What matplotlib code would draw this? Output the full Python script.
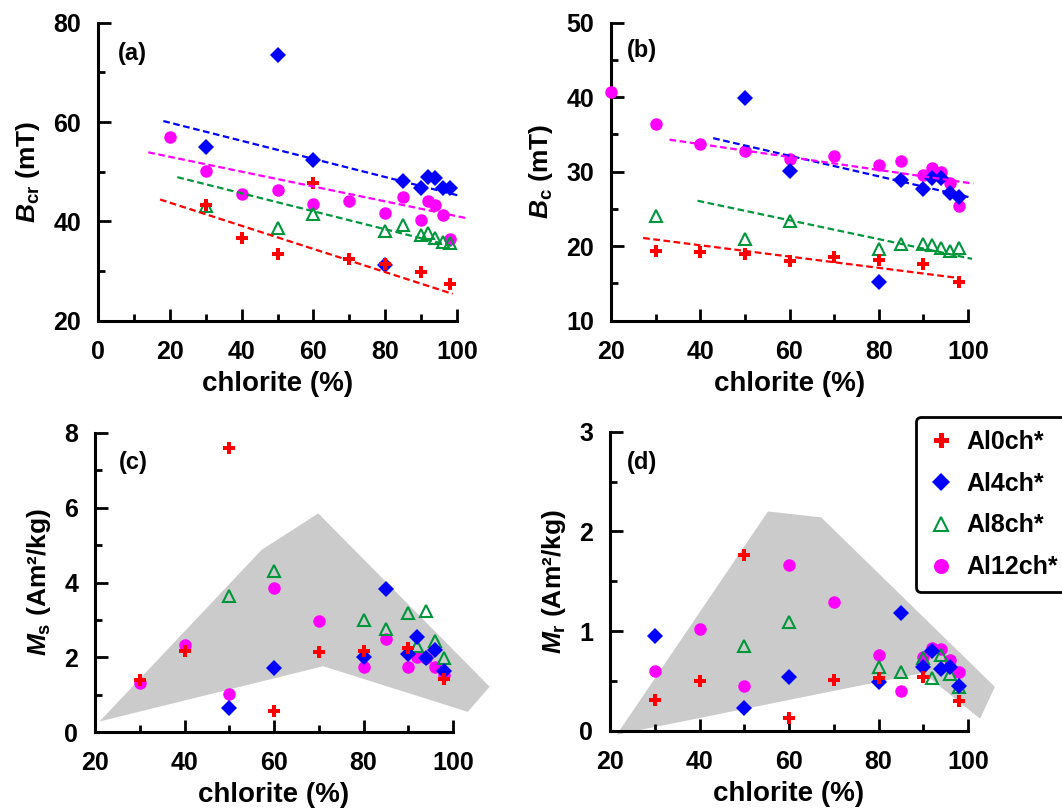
import numpy as np
import matplotlib.pyplot as plt
from matplotlib.ticker import MultipleLocator

plt.rcParams['font.family'] = ['Liberation Sans', 'DejaVu Sans']
plt.rcParams['font.weight'] = 'bold'
plt.rcParams['mathtext.fontset'] = 'custom'
plt.rcParams['mathtext.rm'] = 'Liberation Sans:bold'
plt.rcParams['mathtext.it'] = 'Liberation Sans:italic:bold'
plt.rcParams['mathtext.bf'] = 'Liberation Sans:bold'

# ---------- data (chlorite %, value) ----------
names = ['Al0ch*', 'Al4ch*', 'Al8ch*', 'Al12ch*']

# (a) Bcr
a_x0 = [30, 40, 50, 60, 70, 80, 90, 98]
a_y0 = [43.3, 36.7, 33.4, 47.7, 32.4, 31.5, 29.9, 27.4]
a_x4 = [30, 50, 60, 80, 85, 90, 92, 94, 96, 98]
a_y4 = [55.0, 73.5, 52.4, 31.2, 48.2, 46.8, 48.9, 48.7, 46.8, 46.7]
a_x8 = [30, 50, 60, 80, 85, 90, 92, 94, 96, 98]
a_y8 = [43.0, 38.7, 41.4, 38.1, 39.3, 37.3, 37.6, 36.6, 35.9, 35.6]
a_x12 = [20, 30, 40, 50, 60, 70, 80, 85, 90, 92, 94, 96, 98]
a_y12 = [57.0, 50.1, 45.6, 46.3, 43.5, 44.2, 41.6, 45.0, 40.3, 44.0, 43.2, 41.3, 36.4]
# trend lines (end points)
a_fx = [[17.3, 98.8], [18.2, 101.0], [22.1, 99.4], [14.0, 102.9]]
a_fy = [[44.4, 25.4], [60.2, 45.1], [48.9, 34.9], [53.9, 40.6]]

# (b) Bc
b_x0 = [30, 40, 50, 60, 70, 80, 90, 98]
b_y0 = [19.4, 19.2, 19.0, 18.0, 18.5, 18.2, 17.6, 15.2]
b_x4 = [50, 60, 80, 85, 90, 92, 94, 96, 98]
b_y4 = [39.9, 30.1, 15.2, 28.9, 27.7, 29.2, 29.2, 27.2, 26.6]
b_x8 = [30, 50, 60, 80, 85, 90, 92, 94, 96, 98]
b_y8 = [24.1, 21.0, 23.4, 19.6, 20.3, 20.3, 20.1, 19.7, 19.4, 19.7]
b_x12 = [20, 30, 40, 50, 60, 70, 80, 85, 90, 92, 94, 96, 98]
b_y12 = [40.7, 36.4, 33.7, 32.8, 31.7, 32.1, 30.9, 31.4, 29.5, 30.5, 29.9, 28.5, 25.4]
b_fx = [[27.2, 98.3], [42.9, 100.1], [39.4, 100.9], [33.1, 101.2]]
b_fy = [[21.1, 15.7], [34.5, 26.6], [26.1, 18.3], [34.3, 28.4]]

# (c) Ms
c_x0 = [30, 40, 50, 60, 70, 80, 90, 98]
c_y0 = [1.39, 2.17, 7.59, 0.56, 2.13, 2.17, 2.25, 1.43]
c_x4 = [50, 60, 80, 85, 90, 92, 94, 96, 98]
c_y4 = [0.63, 1.72, 2.01, 3.82, 2.10, 2.53, 1.97, 2.19, 1.64]
c_x8 = [50, 60, 80, 85, 90, 92, 94, 96, 98]
c_y8 = [3.64, 4.31, 3.01, 2.75, 3.19, 2.30, 3.24, 2.44, 1.99]
c_x12 = [30, 40, 50, 60, 70, 80, 85, 90, 92, 94, 96, 98]
c_y12 = [1.32, 2.33, 1.02, 3.86, 2.98, 1.75, 2.50, 1.75, 2.01, 1.99, 1.75, 1.53]
c_env_x = [21.0, 57.2, 69.9, 108.2, 103.3, 71.0]
c_env_y = [0.28, 4.87, 5.85, 1.21, 0.54, 1.76]

# (d) Mr
d_x0 = [30, 40, 50, 60, 70, 80, 90, 98]
d_y0 = [0.31, 0.50, 1.76, 0.13, 0.51, 0.53, 0.54, 0.30]
d_x4 = [30, 50, 60, 80, 85, 90, 92, 94, 96, 98]
d_y4 = [0.95, 0.23, 0.54, 0.49, 1.18, 0.64, 0.80, 0.62, 0.64, 0.45]
d_x8 = [50, 60, 80, 85, 90, 92, 94, 96, 98]
d_y8 = [0.85, 1.09, 0.64, 0.59, 0.73, 0.53, 0.76, 0.57, 0.44]
d_x12 = [30, 40, 50, 60, 70, 80, 85, 90, 92, 94, 96, 98]
d_y12 = [0.60, 1.02, 0.45, 1.66, 1.29, 0.76, 0.40, 0.74, 0.83, 0.82, 0.71, 0.59]
d_env_x = [21.5, 55.3, 67.2, 106.0, 102.7, 90.0]
d_env_y = [-0.04, 2.20, 2.14, 0.44, 0.12, 0.58]

# ---------- styles ----------
colors = ['#ff0000', '#0000ff', '#00963c', '#ff00ff']
markers = ['P', 'D', '^', 'o']
msizes = [9, 8, 8.5, 9]
zorders = [6, 5, 4, 3]

fig = plt.figure(figsize=(10.62, 8.11), dpi=100)
W, H = 1062, 811


def make_ax(left, right, top, bottom):
    return fig.add_axes([left / W, 1 - bottom / H, (right - left) / W, (bottom - top) / H])


ax_a = make_ax(98, 457, 22.7, 320.7)
ax_b = make_ax(611, 968, 22.7, 320.7)
ax_c = make_ax(95, 453, 433, 732)
ax_d = make_ax(610, 968, 431.7, 730.7)


def style(ax, xlim, ylim, xmaj, xmin, ymaj, ymin, ylabel, tag, tagpos):
    ax.set_xlim(*xlim)
    ax.set_ylim(*ylim)
    for s in ['top', 'right']:
        ax.spines[s].set_visible(False)
    for s in ['left', 'bottom']:
        ax.spines[s].set_linewidth(2.2)
    ax.xaxis.set_major_locator(MultipleLocator(xmaj))
    ax.xaxis.set_minor_locator(MultipleLocator(xmin))
    ax.yaxis.set_major_locator(MultipleLocator(ymaj))
    ax.yaxis.set_minor_locator(MultipleLocator(ymin))
    ax.tick_params(which='both', direction='in', width=2, labelsize=18)
    ax.tick_params(which='major', length=9)
    ax.tick_params(which='minor', length=5)
    ax.tick_params(axis='x', pad=14)
    ax.tick_params(axis='y', pad=12)
    ax.set_xlabel('chlorite (%)', fontsize=20, fontweight='bold', labelpad=5)
    ax.set_ylabel(ylabel, fontsize=19, fontweight='bold', labelpad=8)
    ax.text(tagpos[0], tagpos[1], tag, transform=ax.transAxes, fontsize=17,
            fontweight='bold', va='top', ha='left')


def scatter_all(ax, xs, ys):
    handles = []
    for i in range(4):
        if markers[i] == '^':
            h, = ax.plot(xs[i], ys[i], ls='none', marker='^', ms=msizes[i],
                         mfc='none', mec=colors[i], mew=1.5, zorder=zorders[i],
                         clip_on=False, label=names[i])
        else:
            h, = ax.plot(xs[i], ys[i], ls='none', marker=markers[i], ms=msizes[i],
                         mfc=colors[i], mec=colors[i], mew=0, zorder=zorders[i],
                         clip_on=False, label=names[i])
        handles.append(h)
    return handles


def trend_lines(ax, fx, fy):
    for i in range(4):
        ax.plot(fx[i], fy[i], color=colors[i], lw=1.6, ls=(0, (3, 1.6)),
                zorder=7, clip_on=False)


# (a)
style(ax_a, (0, 100), (20, 80), 20, 10, 20, 10,
      r'$\mathit{B}_{\mathrm{cr}}$ (mT)', '(a)', (0.055, 0.935))
scatter_all(ax_a, [a_x0, a_x4, a_x8, a_x12], [a_y0, a_y4, a_y8, a_y12])
trend_lines(ax_a, a_fx, a_fy)

# (b)
style(ax_b, (20, 100), (10, 50), 20, 10, 10, 5,
      r'$\mathit{B}_{\mathrm{c}}$ (mT)', '(b)', (0.045, 0.945))
scatter_all(ax_b, [b_x0, b_x4, b_x8, b_x12], [b_y0, b_y4, b_y8, b_y12])
trend_lines(ax_b, b_fx, b_fy)

# (c)
style(ax_c, (20, 100), (0, 8), 20, 10, 2, 1,
      r'$\mathit{M}_{\mathrm{s}}$ (Am²/kg)', '(c)', (0.068, 0.94))
ax_c.fill(c_env_x, c_env_y, color='#cbcbcb', lw=0, zorder=1, clip_on=False)
scatter_all(ax_c, [c_x0, c_x4, c_x8, c_x12], [c_y0, c_y4, c_y8, c_y12])

# (d)
style(ax_d, (20, 100), (0, 3), 20, 10, 1, 0.5,
      r'$\mathit{M}_{\mathrm{r}}$ (Am²/kg)', '(d)', (0.047, 0.935))
ax_d.fill(d_env_x, d_env_y, color='#cbcbcb', lw=0, zorder=1, clip_on=False)
handles = scatter_all(ax_d, [d_x0, d_x4, d_x8, d_x12], [d_y0, d_y4, d_y8, d_y12])

leg = fig.legend(handles=handles, loc='upper left', bbox_to_anchor=(916 / W, 1 - 417 / H),
                 frameon=True, fancybox=True, handlelength=1.0, markerscale=1.2,
                 handletextpad=0.5, labelspacing=0.72, borderpad=0.5, borderaxespad=0,
                 prop={'weight': 'bold', 'size': 18})
leg.get_frame().set_edgecolor('black')
leg.get_frame().set_linewidth(2)
leg.get_frame().set_alpha(1)

fig.savefig('out.png', dpi=100)
